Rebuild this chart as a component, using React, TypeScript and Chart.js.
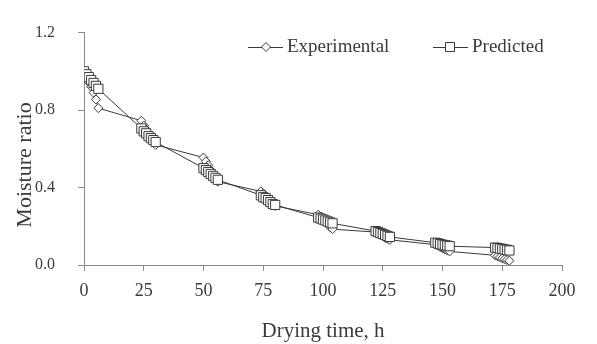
import React, { useEffect, useRef } from "react";
import { Chart, registerables } from "chart.js";

Chart.register(...registerables);

// Drying time (h) for each measurement
const dryingTimeH = [
  0, 1, 2, 3, 4, 5, 6,
  24, 25, 26, 27, 28, 29, 30,
  50, 51, 52, 53, 54, 55, 56,
  74, 75, 76, 77, 78, 79, 80,
  98, 99, 100, 101, 102, 103, 104,
  122, 123, 124, 125, 126, 127, 128,
  147, 148, 149, 150, 151, 152, 153,
  172, 173, 174, 175, 176, 177, 178,
];

const experimentalMR = [
  1.0, 0.97, 0.945, 0.92, 0.89, 0.855, 0.81,
  0.745, 0.72, 0.7, 0.68, 0.66, 0.64, 0.62,
  0.555, 0.535, 0.515, 0.49, 0.47, 0.45, 0.43,
  0.38, 0.37, 0.355, 0.345, 0.33, 0.32, 0.305,
  0.26, 0.25, 0.235, 0.22, 0.21, 0.195, 0.185,
  0.17, 0.165, 0.155, 0.15, 0.14, 0.135, 0.13,
  0.105, 0.1, 0.093, 0.087, 0.08, 0.075, 0.07,
  0.05, 0.045, 0.04, 0.035, 0.03, 0.026, 0.022,
];

const predictedMR = [
  1.0, 0.985, 0.97, 0.955, 0.94, 0.925, 0.91,
  0.705, 0.69, 0.68, 0.665, 0.655, 0.645, 0.635,
  0.5, 0.49, 0.48, 0.47, 0.46, 0.45, 0.44,
  0.36, 0.35, 0.345, 0.335, 0.325, 0.315, 0.31,
  0.245, 0.24, 0.235, 0.23, 0.225, 0.22, 0.215,
  0.175, 0.17, 0.165, 0.16, 0.155, 0.15, 0.145,
  0.115, 0.112, 0.108, 0.105, 0.102, 0.1, 0.097,
  0.09, 0.088, 0.085, 0.083, 0.08, 0.078, 0.075,
];

const seriesLabels = ["Experimental", "Predicted"];
const xTitle = "Drying time, h";
const yTitle = "Moisture ratio";

const INK = "#3a3a3a";
const AXIS = "#8a8a8a";
const FONT = "'Liberation Serif', 'Times New Roman', serif";

const legendPlugin = {
  id: "insideLegend",
  afterDraw(chart: any) {
    const ctx = chart.ctx as CanvasRenderingContext2D;
    const y = 47;
    const items = [
      { label: seriesLabels[0], x0: 248, x1: 283, mx: 266, shape: "diamond" },
      { label: seriesLabels[1], x0: 433, x1: 468, mx: 450, shape: "square" },
    ];
    ctx.save();
    for (const it of items) {
      ctx.strokeStyle = INK;
      ctx.lineWidth = 1;
      ctx.beginPath();
      ctx.moveTo(it.x0, y + 0.5);
      ctx.lineTo(it.x1, y + 0.5);
      ctx.stroke();
      ctx.fillStyle = "#ffffff";
      ctx.beginPath();
      if (it.shape === "diamond") {
        const r = 4.5;
        ctx.moveTo(it.mx, y - r);
        ctx.lineTo(it.mx + r, y);
        ctx.lineTo(it.mx, y + r);
        ctx.lineTo(it.mx - r, y);
        ctx.closePath();
      } else {
        const s = 4.5;
        ctx.rect(it.mx - s, y - s, 2 * s, 2 * s);
      }
      ctx.fill();
      ctx.stroke();
      ctx.fillStyle = INK;
      ctx.font = `19px ${FONT}`;
      ctx.textBaseline = "middle";
      ctx.textAlign = "left";
      ctx.fillText(it.label, it.x1 + 4, y);
    }
    // Y axis title (placed as in the reference, slightly below the plot centre)
    ctx.translate(25, 165);
    ctx.rotate(-Math.PI / 2);
    ctx.font = `22px ${FONT}`;
    ctx.textAlign = "center";
    ctx.textBaseline = "middle";
    ctx.fillStyle = INK;
    ctx.fillText(yTitle, 0, 0);
    ctx.restore();
  },
};

export default function App() {
  const ref = useRef<HTMLCanvasElement | null>(null);

  useEffect(() => {
    if (!ref.current) return;
    const expData = dryingTimeH.map((t, i) => ({ x: t, y: experimentalMR[i] }));
    const predData = dryingTimeH.map((t, i) => ({ x: t, y: predictedMR[i] }));
    const chart = new Chart(ref.current, {
      type: "line",
      data: {
        datasets: [
          {
            label: seriesLabels[0],
            data: expData,
            borderColor: INK,
            borderWidth: 1,
            pointStyle: "rectRot",
            pointRadius: 4.5,
            pointBorderWidth: 1,
            pointBackgroundColor: "#ffffff",
            pointBorderColor: INK,
            tension: 0,
            order: 1,
          },
          {
            label: seriesLabels[1],
            data: predData,
            borderColor: INK,
            borderWidth: 1,
            pointStyle: "rect",
            pointRadius: 6.5,
            pointBorderWidth: 1,
            pointBackgroundColor: "#ffffff",
            pointBorderColor: INK,
            tension: 0,
            order: 0,
          },
        ],
      },
      options: {
        responsive: false,
        animation: false,
        events: [],
        layout: { autoPadding: false, padding: { left: 0, top: 25, right: 35, bottom: 0 } },
        plugins: {
          legend: { display: false },
          tooltip: { enabled: false },
        },
        scales: {
          x: {
            type: "linear",
            min: 0,
            max: 200,
            afterFit: (s: any) => {
              s.height = 79;
            },
            ticks: {
              stepSize: 25,
              padding: 9,
              color: INK,
              font: { family: FONT, size: 18 },
            },
            grid: {
              display: true,
              drawOnChartArea: false,
              drawTicks: true,
              tickLength: 6,
              color: AXIS,
            },
            border: { display: true, color: AXIS, width: 1 },
            title: {
              display: true,
              text: xTitle,
              color: INK,
              font: { family: FONT, size: 21 },
              padding: { top: 0, bottom: 0 },
            },
          },
          y: {
            type: "linear",
            min: 0,
            max: 1.2,
            afterFit: (s: any) => {
              s.width = 84;
            },
            ticks: {
              stepSize: 0.4,
              padding: 23,
              color: INK,
              font: { family: FONT, size: 16 },
              callback: (v: any) => Number(v).toFixed(1),
            },
            grid: {
              display: true,
              drawOnChartArea: false,
              drawTicks: true,
              tickLength: 6,
              color: AXIS,
            },
            border: { display: true, color: AXIS, width: 1 },
            title: { display: false },
          },
        },
      },
      plugins: [legendPlugin],
    });
    return () => chart.destroy();
  }, []);

  return (
    <div style={{ position: "fixed", left: 0, top: 0, width: 597, height: 344, background: "#ffffff" }}>
      <canvas ref={ref} width={597} height={344} style={{ display: "block" }} />
    </div>
  );
}
